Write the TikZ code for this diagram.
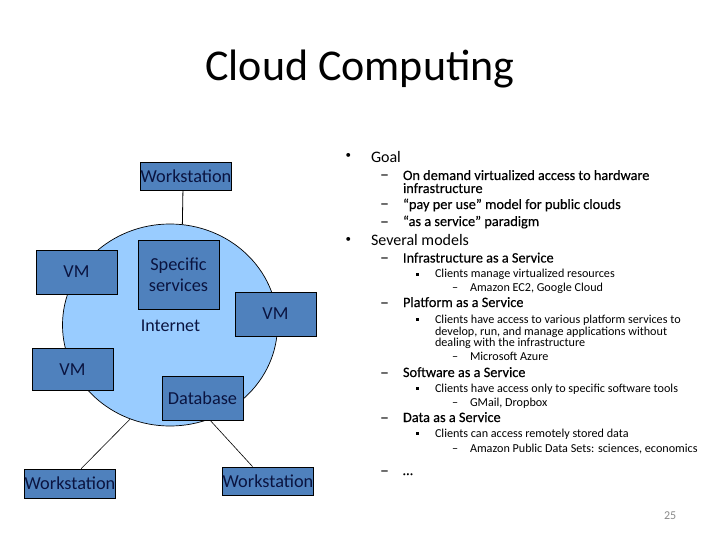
\documentclass[tikz,border=0pt]{standalone}
\usepackage{fontspec}
\usetikzlibrary{shapes.geometric}
\setmainfont{Carlito}
\newfontfamily\semifont[FakeBold=0.35]{Carlito}
\definecolor{boxblue}{HTML}{4F81BD}
\definecolor{cloudblue}{HTML}{99CCFF}
\definecolor{boxtext}{HTML}{0A1440}
\definecolor{pagegray}{HTML}{8A8A8A}
\tikzset{
  wbox/.style={draw=black,line width=0.8pt,fill=boxblue,text=boxtext,minimum width=#1,inner sep=0pt,font=\fontsize{18.3}{21}\selectfont,align=center},
  wbox/.default=81pt,
  lnk/.style={draw=black,line width=0.6pt},
  tl/.style={anchor=base west,inner sep=0pt,outer sep=0pt,text=black},
  lone/.style={tl,font=\fontsize{16}{19}\selectfont},
  ltwo/.style={tl,font=\semifont\fontsize{14.3}{17}\selectfont},
  lthree/.style={tl,font=\fontsize{12.15}{14}\selectfont},
  sq/.style={fill=black,minimum size=3pt,inner sep=0pt,draw=none},
  dot/.style={tl,font=\fontsize{11}{13}\selectfont},
  dashmark/.style={tl,font=\fontsize{18}{20}\selectfont}
}
\begin{document}
\begin{tikzpicture}[x=1pt,y=-1pt]
\useasboundingbox (0,0) rectangle (720,540);
\fill[white] (0,0) rectangle (720,540);
\node[anchor=base,inner sep=0pt,font=\fontsize{44}{52}\selectfont] (title) at (360,81) {Cloud Computing};
% diagram
\node[ellipse,draw=black,line width=0.7pt,fill=cloudblue,minimum width=215pt,minimum height=202pt,inner sep=0pt] (cloud) at (170,325) {};
\node[wbox=90pt,minimum height=28pt] (wt) at (186,176) {Workstation};
\node[wbox,minimum height=69pt] (spec) at (178.5,274.5) {Specific\\services};
\node[wbox,minimum height=44pt] (vma) at (76.5,272) {VM};
\node[wbox,minimum height=44pt] (vmb) at (275.5,314) {VM};
\node[wbox,minimum height=42pt] (vmc) at (72.5,369.5) {VM};
\node[wbox,minimum height=44pt] (db) at (202.5,398) {Database};
\node[wbox=90pt,minimum height=29pt] (wl) at (70,483.5) {Workstation};
\node[wbox=90pt,minimum height=28pt] (wr) at (268,481) {Workstation};
\node[anchor=base,inner sep=0pt,text=boxtext,font=\fontsize{18}{21}\selectfont] (inet) at (170.5,331) {Internet};
\draw[lnk,line width=0.8pt] (wt.258) -- (cloud.83);
\draw[lnk] (cloud.247) -- (wl.53);
\draw[lnk] (db.-71) -- (wr.137);
% text
\node[dot] (b1) at (345.5,159) {•};
\node[lone] (t1) at (371,163) {Goal};
\node[dashmark] (d1) at (380,181) {–};
\node[ltwo] (t2) at (403,180) {On demand virtualized access to hardware};
\node[ltwo] (t3) at (403,193) {infrastructure};
\node[dashmark] (d2) at (380,210) {–};
\node[ltwo] (t4) at (403,209) {“pay per use” model for public clouds};
\node[dashmark] (d3) at (380,227) {–};
\node[ltwo] (t5) at (403,226) {“as a service” paradigm};
\node[dot] (b2) at (345.5,242) {•};
\node[lone] (t6) at (371,245.5) {Several models};
\node[dashmark] (d4) at (380,263.5) {–};
\node[ltwo] (t7) at (403,262.5) {Infrastructure as a Service};
\node[sq] (s1) at (417.5,274) {};
\node[lthree] (t8) at (435,277.5) {Clients manage virtualized resources};
\node[lthree] (d5) at (452,291.5) {–};
\node[lthree] (t9) at (470,291.5) {Amazon EC2, Google Cloud};
\node[dashmark] (d6) at (380,308) {–};
\node[ltwo] (t10) at (403,307) {Platform as a Service};
\node[sq] (s2) at (417.5,319) {};
\node[lthree] (t11) at (435,323) {Clients  have access to various platform services to};
\node[lthree] (t12) at (435,335) {develop, run, and manage applications without};
\node[lthree] (t13) at (435,346) {dealing with the infrastructure};
\node[lthree] (d7) at (452,360.5) {–};
\node[lthree] (t14) at (470,360.5) {Microsoft Azure};
\node[dashmark] (d8) at (380,378) {–};
\node[ltwo] (t15) at (403,377) {Software as a Service};
\node[sq] (s3) at (417.5,388) {};
\node[lthree] (t16) at (435,392) {Clients have access only to specific software tools};
\node[lthree] (d9) at (452,406) {–};
\node[lthree] (t17) at (470,406) {GMail, Dropbox};
\node[dashmark] (d10) at (380,423) {–};
\node[ltwo] (t18) at (403,422) {Data as a Service};
\node[sq] (s4) at (417.5,433) {};
\node[lthree] (t19) at (435,437) {Clients can access remotely stored data};
\node[lthree] (d11) at (452,452) {–};
\node[lthree] (t20) at (470,452) {Amazon Public Data Sets: sciences, economics};
\node[dashmark] (d12) at (380,476) {–};
\node[ltwo] (t21) at (403,475) {…};
\node[tl,text=pagegray,font=\fontsize{12}{14}\selectfont] (pg) at (664,519) {25};
\end{tikzpicture}
\end{document}
